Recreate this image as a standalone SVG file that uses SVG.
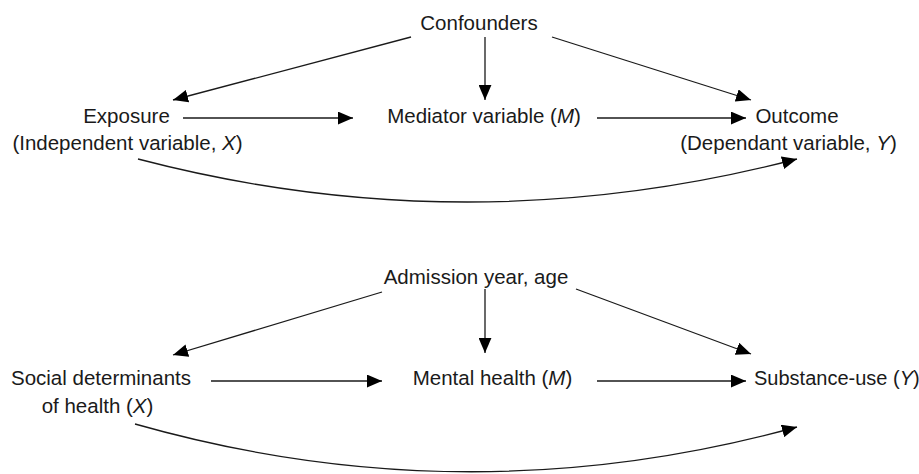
<svg xmlns="http://www.w3.org/2000/svg" width="919" height="474" viewBox="0 0 919 474">
<defs>
<style>
text{font-family:"Liberation Sans",Arial,sans-serif;font-size:20.5px;fill:#1a1a1a;text-anchor:middle}
.e{stroke:#1a1a1a;stroke-width:1.3;fill:none;marker-end:url(#ah)}
</style>
<marker id="ah" markerUnits="userSpaceOnUse" markerWidth="15" markerHeight="13" refX="14" refY="6" orient="auto" viewBox="0 0 14 12">
<path d="M0,0 L14,6 L0,12 z" fill="#000"/>
</marker>
</defs>
<rect width="919" height="474" fill="#fff"/>
<g id="connectors">
<line class="e" x1="411" y1="37" x2="173" y2="100"/>
<line class="e" x1="485" y1="37" x2="485" y2="100"/>
<line class="e" x1="552" y1="37" x2="751" y2="100"/>
<line class="e" x1="183" y1="118" x2="353" y2="118"/>
<line class="e" x1="597" y1="118" x2="746" y2="118"/>
<path class="e" d="M138,159 Q467,245 797,159"/>
<line class="e" x1="382" y1="292" x2="173" y2="355"/>
<line class="e" x1="485" y1="289" x2="485" y2="353"/>
<line class="e" x1="576" y1="289" x2="751" y2="354"/>
<line class="e" x1="211" y1="381" x2="382" y2="381"/>
<line class="e" x1="597" y1="381" x2="746" y2="381"/>
<path class="e" d="M135,424 Q466,518 797,427"/>
</g>
<g id="confounders"><text x="479" y="30">Confounders</text></g>
<g id="exposure"><text x="126.5" y="123">Exposure</text><text x="127.5" y="150">(Independent variable, <tspan font-style="italic">X</tspan>)</text></g>
<g id="mediator"><text x="484" y="123">Mediator variable (<tspan font-style="italic">M</tspan>)</text></g>
<g id="outcome"><text x="797" y="123">Outcome</text><text x="788.5" y="150">(Dependant variable, <tspan font-style="italic">Y</tspan>)</text></g>
<g id="admission"><text x="476" y="284">Admission year, age</text></g>
<g id="social"><text x="101" y="385">Social determinants</text><text x="97.5" y="413">of health (<tspan font-style="italic">X</tspan>)</text></g>
<g id="mental"><text x="492.5" y="385">Mental health (<tspan font-style="italic">M</tspan>)</text></g>
<g id="substance"><text x="754" y="385" style="text-anchor:start;font-size:20px">Substance-use (<tspan font-style="italic">Y</tspan>)</text></g>
</svg>
